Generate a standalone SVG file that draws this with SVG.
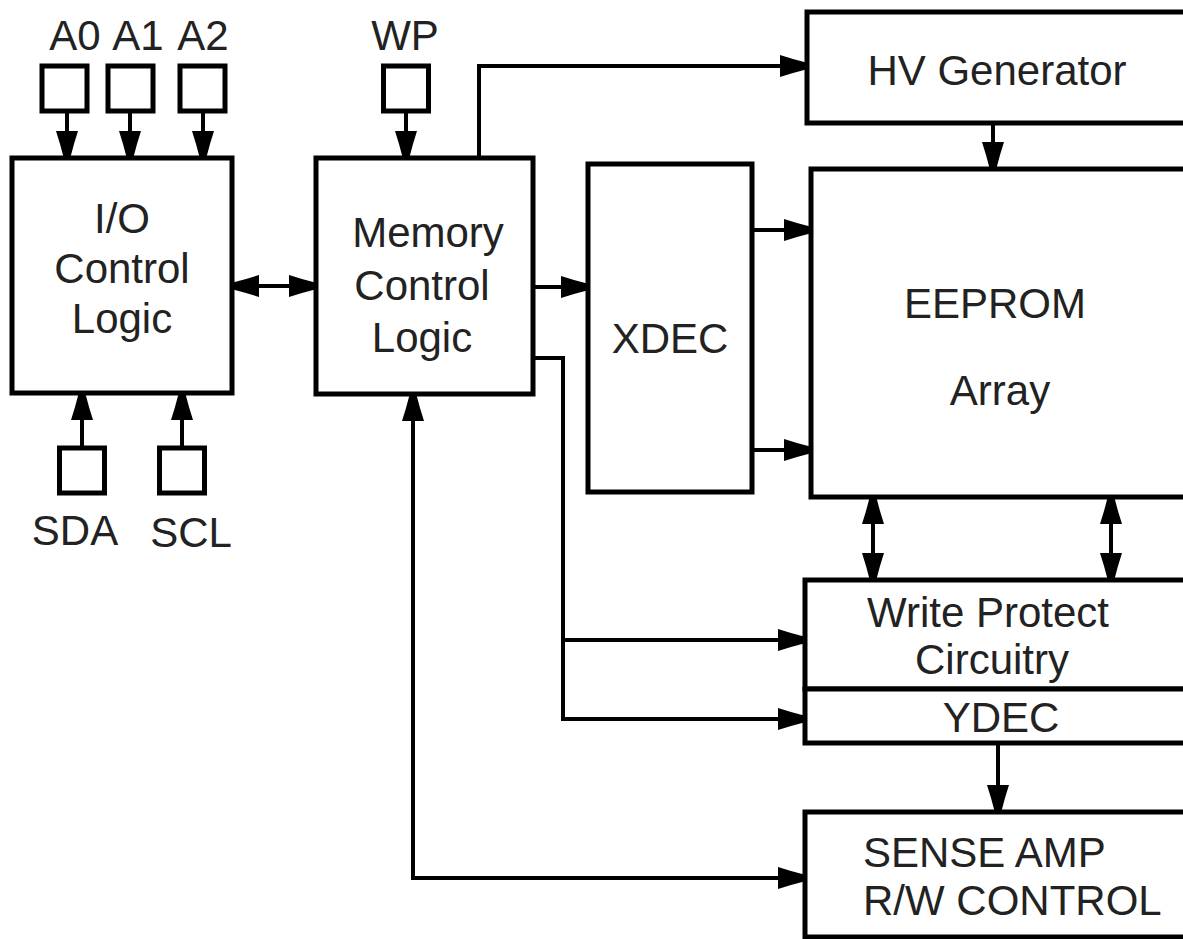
<svg xmlns="http://www.w3.org/2000/svg" width="1183" height="939" viewBox="0 0 1183 939">
<style>
.box{fill:#fff;stroke:#000;stroke-width:5}
.pin{fill:#fff;stroke:#000;stroke-width:5}
.ln{fill:none;stroke:#000;stroke-width:4}
.t{font-family:"Liberation Sans",Arial,sans-serif;font-size:42px;fill:#222}
.c{text-anchor:middle}
</style>
<defs>
<marker id="arr" viewBox="0 0 26 26" markerUnits="userSpaceOnUse" markerWidth="26" markerHeight="26" refX="25" refY="13" orient="auto-start-reverse">
<path d="M26,9.5 L13,6 L0,2 L0,24 L13,20 L26,16.5 Z" fill="#000"/>
</marker>
</defs>
<rect width="1183" height="939" fill="#fff"/>
<g id="connectors">
<line class="ln" x1="67" y1="111" x2="67" y2="156" marker-end="url(#arr)"/>
<line class="ln" x1="130" y1="111" x2="130" y2="156" marker-end="url(#arr)"/>
<line class="ln" x1="203" y1="111" x2="203" y2="156" marker-end="url(#arr)"/>
<line class="ln" x1="406" y1="111" x2="406" y2="156" marker-end="url(#arr)"/>
<line class="ln" x1="82" y1="448" x2="82" y2="395" marker-end="url(#arr)"/>
<line class="ln" x1="182" y1="448" x2="182" y2="395" marker-end="url(#arr)"/>
<line class="ln" x1="234" y1="286" x2="314" y2="286" marker-start="url(#arr)" marker-end="url(#arr)"/>
<line class="ln" x1="535" y1="287" x2="586" y2="287" marker-end="url(#arr)"/>
<path class="ln" d="M479,156 V66 H805" marker-end="url(#arr)"/>
<line class="ln" x1="993" y1="125" x2="993" y2="167" marker-end="url(#arr)"/>
<line class="ln" x1="754" y1="230" x2="809" y2="230" marker-end="url(#arr)"/>
<line class="ln" x1="754" y1="450" x2="809" y2="450" marker-end="url(#arr)"/>
<line class="ln" x1="873" y1="499" x2="873" y2="578" marker-start="url(#arr)" marker-end="url(#arr)"/>
<line class="ln" x1="1111" y1="499" x2="1111" y2="578" marker-start="url(#arr)" marker-end="url(#arr)"/>
<path class="ln" d="M535,358 H563 V719 H803" marker-end="url(#arr)"/>
<path class="ln" d="M563,640 H803" marker-end="url(#arr)"/>
<line class="ln" x1="998" y1="745" x2="998" y2="810" marker-end="url(#arr)"/>
<path class="ln" d="M413,396 V878 H803" marker-start="url(#arr)" marker-end="url(#arr)"/>
</g>
<g id="pin-A0"><rect class="pin" x="42" y="66" width="45" height="45"/><text class="t c" x="75" y="50">A0</text></g>
<g id="pin-A1"><rect class="pin" x="108" y="66" width="45" height="45"/><text class="t c" x="138" y="50">A1</text></g>
<g id="pin-A2"><rect class="pin" x="180" y="66" width="45" height="45"/><text class="t c" x="203" y="50">A2</text></g>
<g id="pin-WP"><rect class="pin" x="383.5" y="66" width="45" height="45"/><text class="t c" x="405" y="50">WP</text></g>
<g id="pin-SDA"><rect class="pin" x="59.5" y="448" width="45" height="45"/><text class="t c" x="75" y="545">SDA</text></g>
<g id="pin-SCL"><rect class="pin" x="159.5" y="448" width="45" height="45"/><text class="t c" x="191" y="547">SCL</text></g>
<g id="io-control"><rect class="box" x="12" y="158" width="220" height="235"/>
<text class="t c" x="122" y="233">I/O</text><text class="t c" x="122" y="283">Control</text><text class="t c" x="122" y="333">Logic</text></g>
<g id="memory-control"><rect class="box" x="316" y="158" width="217" height="236"/>
<text class="t c" x="428" y="247">Memory</text><text class="t c" x="422" y="300">Control</text><text class="t c" x="422" y="352">Logic</text></g>
<g id="xdec"><rect class="box" x="588" y="164" width="164" height="328"/><text class="t c" x="670" y="353">XDEC</text></g>
<g id="hv-generator"><rect class="box" x="807" y="12" width="400" height="111"/><text class="t c" x="997" y="85">HV Generator</text></g>
<g id="eeprom"><rect class="box" x="811" y="169" width="400" height="328"/><text class="t c" x="995" y="318">EEPROM</text><text class="t c" x="1000" y="405">Array</text></g>
<g id="write-protect"><rect class="box" x="805" y="580" width="400" height="109"/><text class="t c" x="988" y="627">Write Protect</text><text class="t c" x="992" y="674">Circuitry</text></g>
<g id="ydec"><rect class="box" x="805" y="689" width="400" height="54"/><text class="t c" x="1001" y="732">YDEC</text></g>
<g id="sense-amp"><rect class="box" x="805" y="812" width="400" height="125"/><text class="t" x="863" y="867">SENSE AMP</text><text class="t" x="863" y="915">R/W CONTROL</text></g>
</svg>
